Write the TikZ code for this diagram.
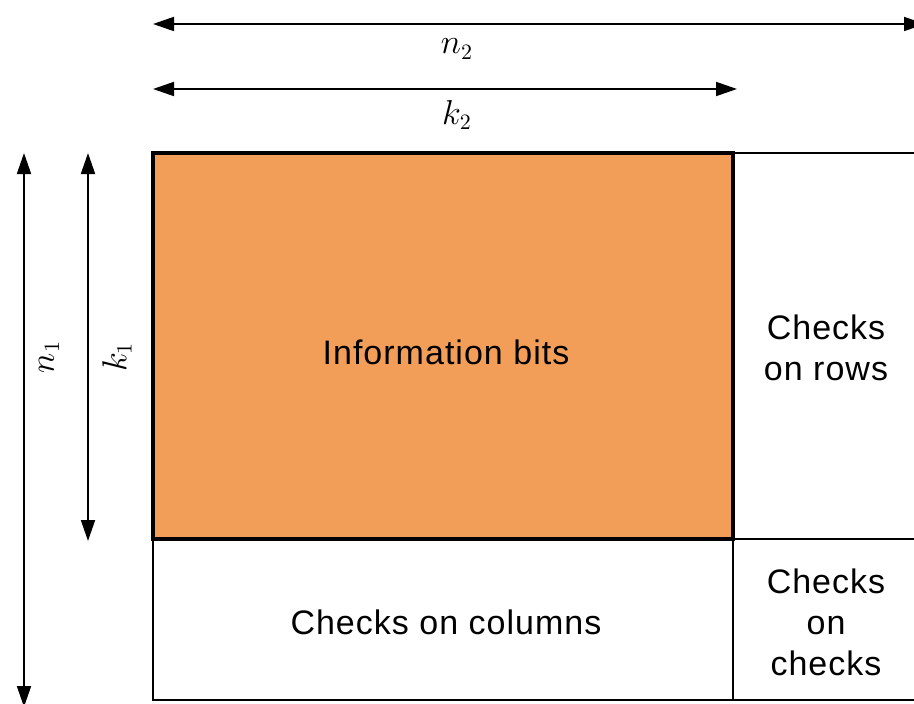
\documentclass[tikz,border=0pt]{standalone}
\usepackage{amsmath}
\usepackage{fontspec}
\setmainfont{Liberation Sans}[LetterSpace=3]
\usepackage{tikz}
\usetikzlibrary{arrows.meta,calc}
\definecolor{infofill}{RGB}{243,158,88}

\begin{document}
\begin{tikzpicture}[x=0.5pt,y=0.5pt,
    cell/.style={draw,line width=1.1pt,inner sep=0pt,outer sep=0pt,anchor=south west},
    lbl/.style={align=center,font=\fontsize{17}{20.5}\selectfont},
    dim/.style={line width=0.9pt,{Triangle[length=10.5pt,width=7pt]}-{Triangle[length=10.5pt,width=7pt]}}]
    \clip(0,0)rectangle(914,703);
    % blocks of the product code
    \node[cell,minimum width=100pt,minimum height=193pt](rows)at(733,164){};
    \node[cell,minimum width=290pt,minimum height=80.5pt](cols)at(153,3){};
    \node[cell,minimum width=100pt,minimum height=80.5pt](chk)at(733,3){};
    \node[cell,fill=infofill,line width=2.4pt,minimum width=290pt,minimum height=193pt](info)at(153,164){};
    \node[lbl](infotext)at(446,351){Information bits};
    \node[lbl](rowstext)at(826,355){Checks\\on rows};
    \node[lbl](colstext)at(446,81){Checks on columns};
    \node[lbl](chktext)at(826,81){Checks\\on\\checks};
    % dimension arrows
    \coordinate(n2a)at(153,679);
    \coordinate(n2b)at(925,679);
    \coordinate(k2a)at(153,614);
    \coordinate(k2b)at(737,614);
    \coordinate(n1a)at(24,550);
    \coordinate(n1b)at(24,-4);
    \coordinate(k1a)at(88,550);
    \coordinate(k1b)at(88,162);
    \draw[dim](n2a)--(n2b);
    \draw[dim](k2a)--(k2b);
    \draw[dim](n1a)--(n1b);
    \draw[dim](k1a)--(k1b);
    \node[font=\fontsize{16}{20}\selectfont](n2)at(457,654){$n_2$};
    \node[font=\fontsize{16}{20}\selectfont](k2)at(457,588){$k_2$};
    \node[font=\fontsize{16}{20}\selectfont,rotate=90](n1)at(49,346){$n_1$};
    \node[font=\fontsize{16}{20}\selectfont,rotate=90](k1)at(117,346){$k_1$};
\end{tikzpicture}
\end{document}
